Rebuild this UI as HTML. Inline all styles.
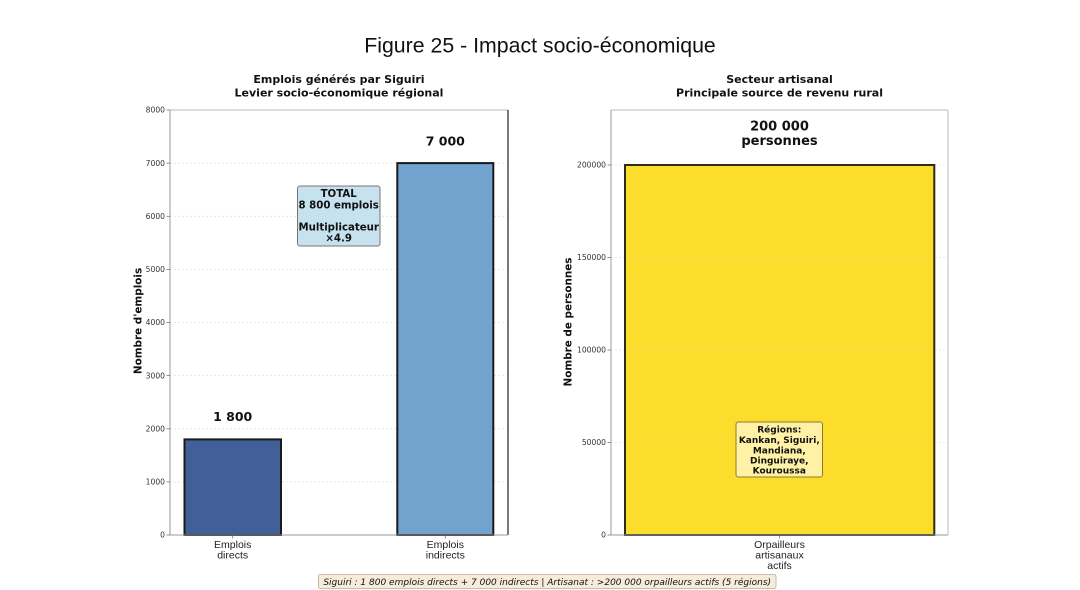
<!DOCTYPE html>
<html><head><meta charset="utf-8"><style>
html,body{margin:0;padding:0;background:#fff;}
svg{display:block;}
.tk{font-family:"DejaVu Sans","Liberation Sans",sans-serif;font-size:7.6px;fill:#333;}
.tt{font-family:"DejaVu Sans","Liberation Sans",sans-serif;font-size:11px;font-weight:bold;fill:#111;}
.yl{font-family:"DejaVu Sans","Liberation Sans",sans-serif;font-size:10.4px;font-weight:bold;fill:#111;}
.xl{font-family:"Liberation Sans","DejaVu Sans",sans-serif;font-size:10.5px;fill:#222;}
.vl{font-family:"DejaVu Sans","Liberation Sans",sans-serif;font-weight:bold;fill:#111;}
.bx{font-family:"DejaVu Sans","Liberation Sans",sans-serif;font-weight:bold;fill:#111;}
</style></head><body>
<svg width="1080" height="590" viewBox="0 0 1080 590" xmlns="http://www.w3.org/2000/svg">
<rect width="1080" height="590" fill="#fff"/>
<text x="540" y="52.5" text-anchor="middle" font-family="Liberation Sans, DejaVu Sans, sans-serif" font-size="21.3" fill="#111">Figure 25 - Impact socio-économique</text>

<!-- LEFT CHART -->
<text class="tt" x="339" y="83" text-anchor="middle">Emplois générés par Siguiri</text>
<text class="tt" x="339" y="96.5" text-anchor="middle">Levier socio-économique régional</text>
<g stroke="#e2e2e2" stroke-width="0.8" stroke-dasharray="2,2">
<line x1="170" x2="508" y1="481.9" y2="481.9"/>
<line x1="170" x2="508" y1="428.8" y2="428.8"/>
<line x1="170" x2="508" y1="375.6" y2="375.6"/>
<line x1="170" x2="508" y1="322.5" y2="322.5"/>
<line x1="170" x2="508" y1="269.4" y2="269.4"/>
<line x1="170" x2="508" y1="216.3" y2="216.3"/>
<line x1="170" x2="508" y1="163.1" y2="163.1"/>
</g>
<rect x="184.5" y="439.4" width="96.5" height="95.6" fill="#41609a" stroke="#1a1a1a" stroke-width="2"/>
<rect x="397.3" y="163.1" width="96" height="371.9" fill="#72a3cf" stroke="#1a1a1a" stroke-width="2"/>
<line x1="170" y1="110" x2="508" y2="110" stroke="#bbb" stroke-width="1"/>
<line x1="170" y1="110" x2="170" y2="535" stroke="#999" stroke-width="1"/>
<line x1="508" y1="110" x2="508" y2="535" stroke="#222" stroke-width="1.2"/>
<line x1="170" y1="535" x2="508" y2="535" stroke="#999" stroke-width="1"/>
<g stroke="#777" stroke-width="0.8">
<line x1="166.5" x2="170" y1="535" y2="535"/><line x1="166.5" x2="170" y1="481.9" y2="481.9"/>
<line x1="166.5" x2="170" y1="428.8" y2="428.8"/><line x1="166.5" x2="170" y1="375.6" y2="375.6"/>
<line x1="166.5" x2="170" y1="322.5" y2="322.5"/><line x1="166.5" x2="170" y1="269.4" y2="269.4"/>
<line x1="166.5" x2="170" y1="216.3" y2="216.3"/><line x1="166.5" x2="170" y1="163.1" y2="163.1"/>
<line x1="166.5" x2="170" y1="110" y2="110"/>
<line x1="232.7" x2="232.7" y1="535" y2="538.5"/><line x1="445.3" x2="445.3" y1="535" y2="538.5"/>
</g>
<g class="tk" text-anchor="end">
<text x="165" y="537.7">0</text><text x="165" y="484.6">1000</text><text x="165" y="431.5">2000</text>
<text x="165" y="378.3">3000</text><text x="165" y="325.2">4000</text><text x="165" y="272.1">5000</text>
<text x="165" y="219">6000</text><text x="165" y="165.8">7000</text><text x="165" y="112.7">8000</text>
</g>
<text class="yl" transform="translate(141.5,321) rotate(-90)" text-anchor="middle">Nombre d'emplois</text>
<text class="xl" x="232.7" y="548" text-anchor="middle">Emplois</text>
<text class="xl" x="232.7" y="558.5" text-anchor="middle">directs</text>
<text class="xl" x="445.3" y="548" text-anchor="middle">Emplois</text>
<text class="xl" x="445.3" y="558.5" text-anchor="middle">indirects</text>
<text class="vl" x="232.7" y="421" text-anchor="middle" font-size="12.5">1 800</text>
<text class="vl" x="445.3" y="145.3" text-anchor="middle" font-size="12.5">7 000</text>
<rect x="297.5" y="186" width="82.5" height="60" rx="2.5" fill="#c5e2ee" stroke="#777" stroke-width="1"/>
<g class="bx" text-anchor="middle" font-size="10.2">
<text x="338.7" y="197">TOTAL</text>
<text x="338.7" y="208.3">8 800 emplois</text>
<text x="338.7" y="230.3">Multiplicateur</text>
<text x="338.7" y="241.3">×4.9</text>
</g>

<!-- RIGHT CHART -->
<text class="tt" x="779.5" y="83" text-anchor="middle">Secteur artisanal</text>
<text class="tt" x="779.5" y="96.5" text-anchor="middle">Principale source de revenu rural</text>
<g stroke="#e2e2e2" stroke-width="0.8" stroke-dasharray="2,2">
<line x1="611" x2="948" y1="442.5" y2="442.5"/>
<line x1="611" x2="948" y1="350" y2="350"/>
<line x1="611" x2="948" y1="257.5" y2="257.5"/>
<line x1="611" x2="948" y1="165" y2="165"/>
</g>
<rect x="625" y="165" width="309.3" height="370" fill="#fddd2b" stroke="#2e2b1a" stroke-width="2"/>
<g stroke="#ece7c0" stroke-width="0.6" stroke-dasharray="2,2" opacity="0.6">
<line x1="626" x2="933" y1="442.5" y2="442.5"/>
<line x1="626" x2="933" y1="350" y2="350"/>
<line x1="626" x2="933" y1="257.5" y2="257.5"/>
</g>
<line x1="611" y1="110" x2="948" y2="110" stroke="#bbb" stroke-width="1"/>
<line x1="611" y1="110" x2="611" y2="535" stroke="#999" stroke-width="1"/>
<line x1="948" y1="110" x2="948" y2="535" stroke="#bbb" stroke-width="1"/>
<line x1="611" y1="535" x2="948" y2="535" stroke="#999" stroke-width="1"/>
<g stroke="#777" stroke-width="0.8">
<line x1="607.5" x2="611" y1="535" y2="535"/><line x1="607.5" x2="611" y1="442.5" y2="442.5"/>
<line x1="607.5" x2="611" y1="350" y2="350"/><line x1="607.5" x2="611" y1="257.5" y2="257.5"/>
<line x1="607.5" x2="611" y1="165" y2="165"/>
<line x1="779.5" x2="779.5" y1="535" y2="538.5"/>
</g>
<g class="tk" text-anchor="end">
<text x="606" y="537.7">0</text><text x="606" y="445.2">50000</text><text x="606" y="352.7">100000</text>
<text x="606" y="260.2">150000</text><text x="606" y="167.7">200000</text>
</g>
<text class="yl" transform="translate(571.5,322) rotate(-90)" text-anchor="middle">Nombre de personnes</text>
<text class="xl" x="779.5" y="548" text-anchor="middle">Orpailleurs</text>
<text class="xl" x="779.5" y="558.5" text-anchor="middle">artisanaux</text>
<text class="xl" x="779.5" y="569" text-anchor="middle">actifs</text>
<text class="vl" x="779.5" y="130.7" text-anchor="middle" font-size="13">200 000</text>
<text class="vl" x="779.5" y="145" text-anchor="middle" font-size="13">personnes</text>
<rect x="736" y="422" width="86.5" height="55" rx="2.5" fill="#fff2a6" stroke="#8a7a30" stroke-width="1"/>
<g class="bx" text-anchor="middle" font-size="9">
<text x="779.3" y="432.5">Régions:</text>
<text x="779.3" y="443">Kankan, Siguiri,</text>
<text x="779.3" y="453.5">Mandiana,</text>
<text x="779.3" y="463.7">Dinguiraye,</text>
<text x="779.3" y="473.7">Kouroussa</text>
</g>

<!-- FOOTER -->
<rect x="318.5" y="574.5" width="457.5" height="14" rx="2" fill="#f7ecdb" stroke="#b8aa90" stroke-width="0.8"/>
<text x="547.2" y="584.8" text-anchor="middle" font-family="DejaVu Sans, Liberation Sans, sans-serif" font-style="italic" font-size="9" fill="#111">Siguiri : 1 800 emplois directs + 7 000 indirects | Artisanat : &gt;200 000 orpailleurs actifs (5 régions)</text>
</svg>
</body></html>
